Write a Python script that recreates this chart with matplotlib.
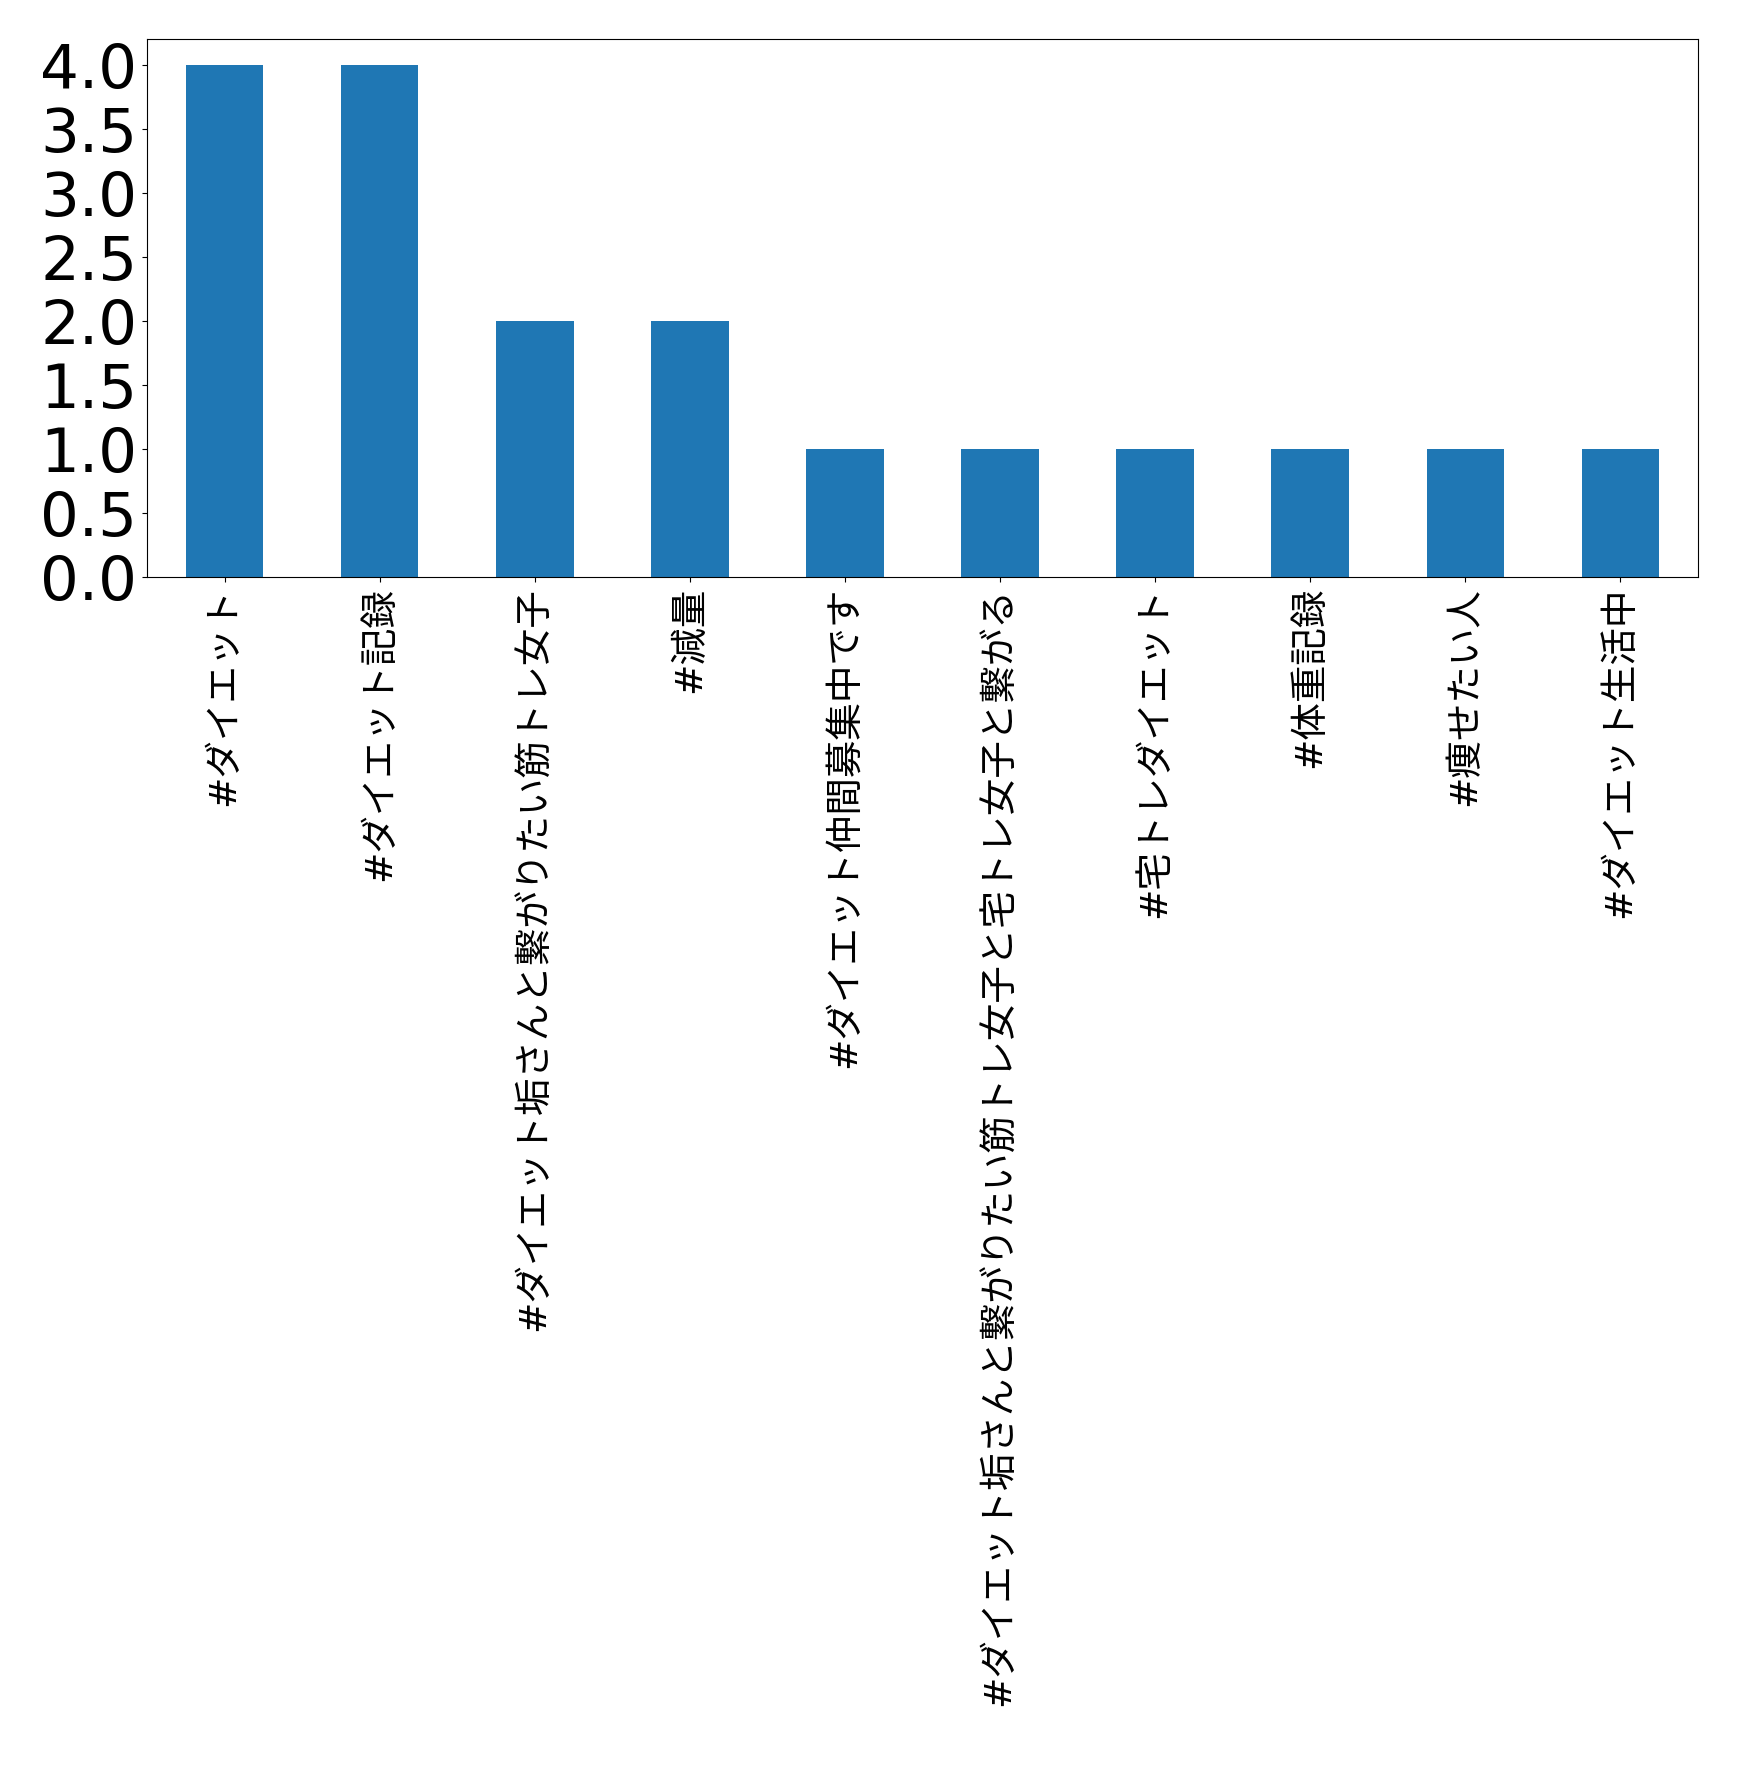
import matplotlib
matplotlib.use("Agg")
import matplotlib.pyplot as plt

# hashtag counts
tags = ["#ダイエット", "#ダイエット記録", "#ダイエット垢さんと繋がりたい筋トレ女子", "#減量",
        "#ダイエット仲間募集中です", "#ダイエット垢さんと繋がりたい筋トレ女子と宅トレ女子と繋がる",
        "#宅トレダイエット", "#体重記録", "#痩せたい人", "#ダイエット生活中"]
counts = [4, 4, 2, 2, 1, 1, 1, 1, 1, 1]
yticks = [0.0, 0.5, 1.0, 1.5, 2.0, 2.5, 3.0, 3.5, 4.0]

plt.rcParams['font.family'] = ['DejaVu Sans', 'Noto Sans CJK JP']
fig = plt.figure(figsize=(17.39, 17.68), dpi=100)
ax = fig.add_axes([147 / 1739, 1 - 577 / 1768, (1698 - 147) / 1739, (577 - 39.5) / 1768])

x = list(range(len(tags)))
ax.bar(x, counts, width=0.5, color='#1f77b4')
ax.set_xlim(-0.5, len(tags) - 0.5)
ax.set_ylim(0, 4.2)
ax.set_yticks(yticks)
ax.set_yticklabels([f"{v:.1f}" for v in yticks])
ax.set_xticks(x)
ax.set_xticklabels(tags, rotation=90, fontsize=27)
ax.tick_params(axis='y', labelsize=44)

fig.savefig("out.png", dpi=100)
